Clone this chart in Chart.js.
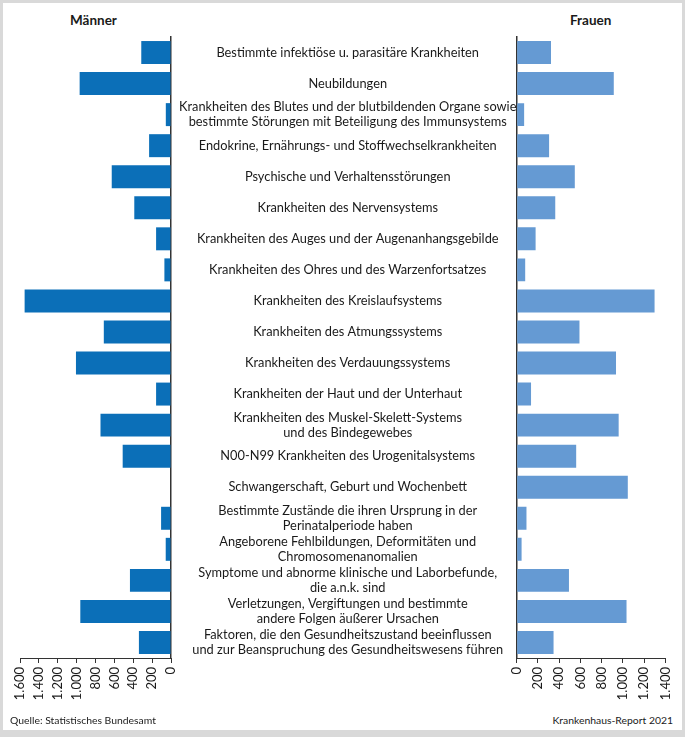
<!DOCTYPE html>
<html>
<head>
<meta charset="utf-8">
<script src="https://cdn.jsdelivr.net/npm/chart.js@4.4.0/dist/chart.umd.min.js"></script>
<style>
  body { margin: 0; background: #d9d9d9; width: 685px; height: 737px; overflow: hidden; }
  #frame { position: absolute; left: 3px; top: 3px; width: 679px; height: 727px; background: #fff; }
  canvas { position: absolute; top: 0; }
  #left { left: 0; }
  #right { left: 500px; }
  .hdr { position: absolute; top: 12px; font: bold 13.5px Lato, sans-serif; color: #1a1a1a; }
  .foot { position: absolute; top: 714px; font: 10.4px Lato, sans-serif; color: #1a1a1a; }
</style>
</head>
<body>
<div id="frame"></div>
<div class="hdr" style="left:70px">Männer</div>
<div class="hdr" style="left:570px">Frauen</div>
<canvas id="right" width="185" height="708"></canvas>
<canvas id="left" width="540" height="708"></canvas>
<div class="foot" style="left:10px">Quelle: Statistisches Bundesamt</div>
<div class="foot" style="right:12px">Krankenhaus-Report 2021</div>
<script>
// Krankenhausfälle nach Diagnosekapiteln (in Tausend)
var kapitel = [
  "Bestimmte infektiöse u. parasitäre Krankheiten",
  "Neubildungen",
  ["Krankheiten des Blutes und der blutbildenden Organe sowie", "bestimmte Störungen mit Beteiligung des Immunsystems"],
  "Endokrine, Ernährungs- und Stoffwechselkrankheiten",
  "Psychische und Verhaltensstörungen",
  "Krankheiten des Nervensystems",
  "Krankheiten des Auges und der Augenanhangsgebilde",
  "Krankheiten des Ohres und des Warzenfortsatzes",
  "Krankheiten des Kreislaufsystems",
  "Krankheiten des Atmungssystems",
  "Krankheiten des Verdauungssystems",
  "Krankheiten der Haut und der Unterhaut",
  ["Krankheiten des Muskel-Skelett-Systems", "und des Bindegewebes"],
  "N00-N99 Krankheiten des Urogenitalsystems",
  "Schwangerschaft, Geburt und Wochenbett",
  ["Bestimmte Zustände die ihren Ursprung in der", "Perinatalperiode haben"],
  ["Angeborene Fehlbildungen, Deformitäten und", "Chromosomenanomalien"],
  ["Symptome und abnorme klinische und Laborbefunde,", "die a.n.k. sind"],
  ["Verletzungen, Vergiftungen und bestimmte", "andere Folgen äußerer Ursachen"],
  ["Faktoren, die den Gesundheitszustand beeinflussen", "und zur Beanspruchung des Gesundheitswesens führen"]
];
var maenner = [315, 968, 55, 232, 628, 389, 158, 70, 1551, 712, 1007, 158, 747, 512, 0, 105, 56, 435, 961, 340];
var frauen = [323, 914, 70, 305, 547, 363, 178, 80, 1298, 591, 935, 135, 960, 560, 1046, 92, 46, 492, 1034, 347];
var maxMaenner = 1600;
var maxFrauen = 1400;

var txt = '#1a1a1a';

function fmt(v) {
  return v >= 1000 ? Math.floor(v / 1000) + '.' + String(v % 1000).padStart(3, '0') : String(v);
}

function xAxis(max, rev) {
  return {
    min: 0, max: max, reverse: rev,
    ticks: {
      stepSize: 200, color: txt, minRotation: 90, maxRotation: 90, padding: 4, autoSkip: false,
      font: { family: 'Lato', size: 13 },
      callback: function(v) { return fmt(v) }
    },
    grid: { drawOnChartArea: false, drawTicks: true, tickLength: 5, color: '#333', lineWidth: 1 },
    border: { display: true, color: '#333', width: 1 },
    afterFit: function(s) { s.height = 50 }
  };
}

new Chart(document.getElementById('left'), {
  type: 'bar',
  data: {
    labels: kapitel,
    datasets: [{ data: maenner, backgroundColor: '#0b6fb8', categoryPercentage: 1, barPercentage: 0.74 }]
  },
  options: {
    indexAxis: 'y', responsive: false, animation: false,
    layout: { padding: { left: 20, top: 37, right: 23, bottom: 0 } },
    plugins: { legend: { display: false }, tooltip: { enabled: false } },
    scales: {
      x: xAxis(maxMaenner, true),
      y: {
        position: 'right',
        ticks: { color: txt, crossAlign: 'center', padding: 0, autoSkip: false, font: { family: 'Lato', size: 12.8, lineHeight: 1.17 } },
        grid: { display: false },
        border: { display: true, color: '#333', width: 1.5 },
        afterFit: function(s) { s.width = 346 }
      }
    }
  }
});

new Chart(document.getElementById('right'), {
  type: 'bar',
  data: {
    labels: kapitel,
    datasets: [{ data: frauen, backgroundColor: '#659ad3', categoryPercentage: 1, barPercentage: 0.74 }]
  },
  options: {
    indexAxis: 'y', responsive: false, animation: false,
    layout: { padding: { left: 16.7, top: 37, right: 16.7, bottom: 0 } },
    plugins: { legend: { display: false }, tooltip: { enabled: false } },
    scales: {
      x: xAxis(maxFrauen, false),
      y: {
        ticks: { display: false },
        grid: { display: false },
        border: { display: true, color: '#333', width: 1.5 },
        afterFit: function(s) { s.width = 0 }
      }
    }
  }
});
</script>
</body>
</html>
